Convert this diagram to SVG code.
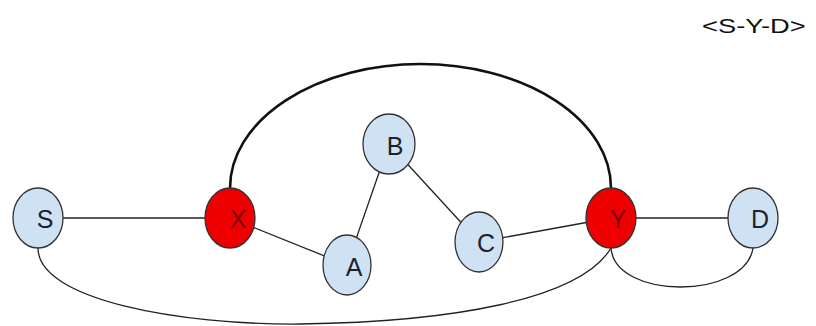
<svg xmlns="http://www.w3.org/2000/svg" width="816" height="326" viewBox="0 0 816 326">
  <style>
    .edge { fill: none; stroke: #222; stroke-width: 1.3; }
    .thick { fill: none; stroke: #111; stroke-width: 2.6; }
    .blue { fill: #cfe2f3; stroke: #333; stroke-width: 1.3; }
    .red { fill: #ee0000; stroke: #333; stroke-width: 1.3; }
    .lbl { font-family: "Liberation Sans", Arial, sans-serif; font-size: 25px; text-anchor: middle; fill: #1c2230; }
    .lblr { font-family: "Liberation Sans", Arial, sans-serif; font-size: 25px; text-anchor: middle; fill: #7a0606; }
    .title { font-family: "Liberation Sans", Arial, sans-serif; font-size: 21px; fill: #111; }
  </style>
  <rect width="816" height="326" fill="#ffffff"/>
  <text class="title" transform="translate(702,33) scale(1.3,1)" x="0" y="0">&lt;S-Y-D&gt;</text>
  <g id="connectors">
    <path class="thick" d="M230,188 A190.5,124 0 0 1 611,188"/>
    <line class="edge" x1="38" y1="218" x2="230" y2="218"/>
    <line class="edge" x1="230" y1="218" x2="347" y2="265"/>
    <line class="edge" x1="347" y1="265" x2="389" y2="144"/>
    <line class="edge" x1="389" y1="144" x2="479" y2="242"/>
    <line class="edge" x1="479" y1="242" x2="611" y2="218"/>
    <line class="edge" x1="611" y1="218" x2="753" y2="218"/>
    <path class="edge" d="M38,248 C38,300 180,325 300,324 C450,322 580,300 611,248"/>
    <path class="edge" d="M611,248 C615,300 745,300 753,248"/>
  </g>
  <g id="node-S">
    <ellipse class="blue" cx="38" cy="218" rx="25" ry="30"/>
    <text class="lbl" x="45" y="228">S</text>
  </g>
  <g id="node-X">
    <ellipse class="red" cx="230" cy="218" rx="25" ry="30"/>
    <text class="lblr" x="238" y="228">X</text>
  </g>
  <g id="node-A">
    <ellipse class="blue" cx="347" cy="265" rx="24" ry="30"/>
    <text class="lbl" x="354" y="276">A</text>
  </g>
  <g id="node-B">
    <ellipse class="blue" cx="389" cy="144" rx="26" ry="30"/>
    <text class="lbl" x="395" y="155">B</text>
  </g>
  <g id="node-C">
    <ellipse class="blue" cx="479" cy="242" rx="24" ry="30"/>
    <text class="lbl" x="486" y="252">C</text>
  </g>
  <g id="node-Y">
    <ellipse class="red" cx="611" cy="218" rx="25" ry="30"/>
    <text class="lblr" x="618" y="228">Y</text>
  </g>
  <g id="node-D">
    <ellipse class="blue" cx="753" cy="218" rx="25" ry="30"/>
    <text class="lbl" x="760" y="228">D</text>
  </g>
</svg>
